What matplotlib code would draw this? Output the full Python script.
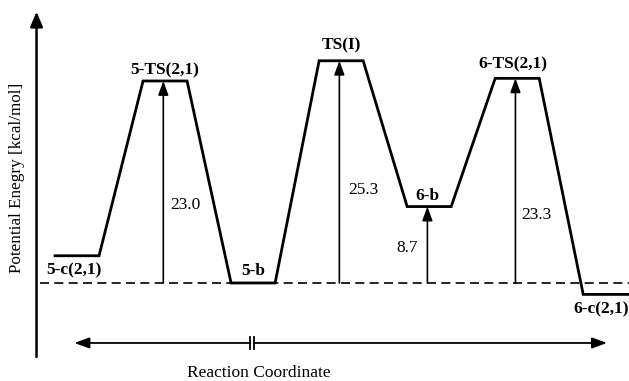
import numpy as np
import matplotlib.pyplot as plt

# species along the reaction coordinate
species = ["5-c(2,1)", "5-TS(2,1)", "5-b", "TS(I)", "6-b", "6-TS(2,1)", "6-c(2,1)"]
energies = [3.1, 23.0, 0.0, 25.3, 8.7, 23.3, -1.3]
positions = [0, 1, 2, 3, 4, 5, 6]

# barrier arrows (from 5-b reference level)
arrow_x = [1, 3, 4, 5]
arrow_top = [23.0, 25.3, 8.7, 23.3]
arrow_text = ["23.0", "25.3", "8.7", "23.3"]

half = 0.25  # plateau half width

plt.rcParams['font.family'] = ['Liberation Serif', 'DejaVu Serif']

fig = plt.figure(figsize=(6.29, 3.81), dpi=100)
ax = fig.add_axes([0, 0, 1, 1])
ax.set_xlim(-0.875, 6.27)
ax.set_ylim(-11.16, 32.22)
ax.axis('off')

# energy profile: plateaus joined by straight ramps
xs, ys = [], []
for p, e in zip(positions, energies):
    xs += [p - half, p + half]
    ys += [e, e]
xs[-1] = 6.4
ax.plot(xs, ys, color='black', lw=2.0, solid_joinstyle='miter', clip_on=False)

# dashed reference line at 5-b
ax.plot([-0.42, 6.3], [0, 0], color='black', lw=1.2, ls=(0, (5.4, 3.2)))

# vertical barrier arrows
for x, top in zip(arrow_x, arrow_top):
    ax.annotate("", xy=(x - 0.02, top), xytext=(x - 0.02, 0),
                arrowprops=dict(arrowstyle='-|>,head_length=0.6,head_width=0.22',
                                color='black', lw=1.2,
                                mutation_scale=14, shrinkA=0, shrinkB=0))

# barrier values
ax.text(1.06, 8.9, arrow_text[0], fontsize=12.5, ha='left', va='center')
ax.text(3.08, 10.6, arrow_text[1], fontsize=12.5, ha='left', va='center')
ax.text(3.87, 4.0, arrow_text[2], fontsize=12.5, ha='right', va='center')
ax.text(5.05, 7.7, arrow_text[3], fontsize=12.5, ha='left', va='center')

# species labels
offs = [(-2, -5, 'top'), (0, 2, 'bottom'), (0, 3, 'bottom'), (0, 5, 'bottom'),
        (-1, 2, 'bottom'), (-3, 4, 'bottom'), (-3, -5, 'top')]
for p, e, name, (dx, dy, va) in zip(positions, energies, species, offs):
    ax.annotate(name, xy=(p, e), xytext=(dx, dy), textcoords='offset points',
                ha='center', va=va, fontsize=12.5, fontweight='bold')

# y axis arrow
ax.annotate("", xy=(-0.46, 30.9), xytext=(-0.46, -8.43),
            arrowprops=dict(arrowstyle='-|>,head_length=0.6,head_width=0.25',
                            color='black', lw=1.8,
                            mutation_scale=15, shrinkA=0, shrinkB=0))
ax.text(-0.68, 11.95, "Potential Enegry [kcal/mol]", rotation=90,
        ha='center', va='center', fontsize=12.3)

# reaction coordinate arrow with break mark
ax.annotate("", xy=(-0.03, -6.83), xytext=(1.97, -6.83),
            arrowprops=dict(arrowstyle='-|>,head_length=0.6,head_width=0.22',
                            color='black', lw=1.3,
                            mutation_scale=15, shrinkA=0, shrinkB=0))
ax.annotate("", xy=(6.02, -6.83), xytext=(2.01, -6.83),
            arrowprops=dict(arrowstyle='-|>,head_length=0.6,head_width=0.22',
                            color='black', lw=1.3,
                            mutation_scale=15, shrinkA=0, shrinkB=0))
for bx in (1.97, 2.01):
    ax.plot([bx, bx], [-7.5, -6.15], color='black', lw=1.3)
ax.text(2.06, -10.2, "Reaction Coordinate", ha='center', va='center', fontsize=12.5)

fig.savefig("out.png", dpi=100)
